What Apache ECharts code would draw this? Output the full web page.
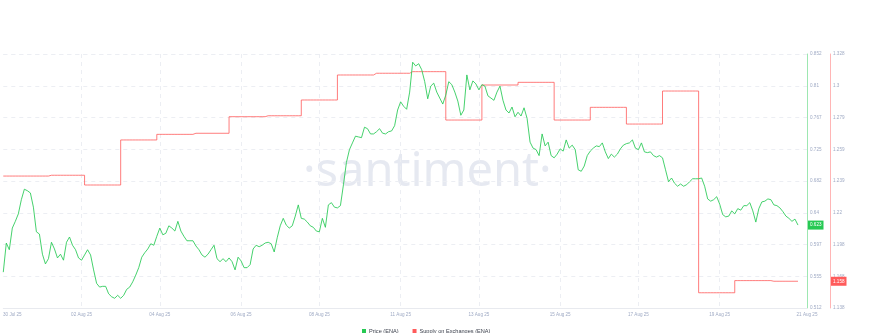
<!DOCTYPE html>
<html>
<head>
<meta charset="utf-8">
<script src="https://cdn.jsdelivr.net/npm/echarts@6/dist/echarts.min.js"></script>
<style>
html,body{margin:0;padding:0;background:#fff;}
#chart{width:874px;height:333px;}
</style>
</head>
<body>
<div id="chart"></div>
<script>
// ---- DATA ----
// price (ENA), one reading every 2 hours starting 29 Jul 2025 18:00
const priceValues = [
0.560,0.599,0.590,0.619,0.628,0.638,0.657,0.671,0.669,0.666,
0.647,0.614,0.611,0.584,0.571,0.578,0.600,0.591,0.579,0.584,
0.576,0.600,0.607,0.596,0.590,0.579,0.576,0.583,0.590,0.583,
0.563,0.545,0.540,0.541,0.541,0.531,0.527,0.525,0.529,0.525,
0.529,0.537,0.540,0.547,0.556,0.566,0.580,0.586,0.591,0.598,
0.596,0.608,0.619,0.610,0.612,0.622,0.619,0.615,0.628,0.615,
0.608,0.602,0.602,0.602,0.595,0.590,0.583,0.580,0.584,0.590,
0.596,0.578,0.574,0.578,0.574,0.579,0.574,0.563,0.580,0.575,
0.566,0.566,0.570,0.591,0.596,0.594,0.596,0.599,0.600,0.598,
0.587,0.606,0.622,0.632,0.623,0.619,0.622,0.635,0.650,0.632,
0.631,0.627,0.622,0.620,0.615,0.614,0.632,0.620,0.650,0.653,
0.647,0.646,0.649,0.677,0.707,0.724,0.733,0.742,0.741,0.740,
0.754,0.752,0.745,0.745,0.748,0.752,0.746,0.745,0.748,0.749,
0.756,0.777,0.788,0.782,0.778,0.801,0.841,0.836,0.839,0.831,
0.815,0.792,0.809,0.813,0.801,0.793,0.785,0.797,0.815,0.811,
0.801,0.789,0.770,0.777,0.824,0.804,0.816,0.812,0.804,0.811,
0.809,0.796,0.793,0.790,0.801,0.809,0.790,0.777,0.773,0.781,
0.768,0.774,0.769,0.780,0.766,0.734,0.726,0.724,0.716,0.745,
0.729,0.734,0.716,0.713,0.718,0.725,0.722,0.737,0.726,0.730,
0.724,0.697,0.695,0.702,0.716,0.722,0.726,0.729,0.728,0.733,
0.721,0.712,0.718,0.714,0.718,0.725,0.730,0.732,0.733,0.737,
0.726,0.724,0.733,0.721,0.720,0.721,0.716,0.714,0.716,0.713,
0.697,0.681,0.686,0.679,0.675,0.678,0.675,0.677,0.681,0.685,
0.685,0.685,0.686,0.675,0.658,0.655,0.657,0.661,0.651,0.637,
0.634,0.635,0.642,0.638,0.645,0.643,0.649,0.649,0.653,0.642,
0.627,0.645,0.654,0.655,0.658,0.657,0.650,0.649,0.646,0.641,
0.635,0.632,0.628,0.631,0.623
];

// supply on exchanges (ENA), one value per day
const supplyDates = ['29 Jul','30 Jul','31 Jul','01 Aug','02 Aug','03 Aug','04 Aug','05 Aug',
  '06 Aug','07 Aug','08 Aug','09 Aug','10 Aug','11 Aug','12 Aug','13 Aug','14 Aug','15 Aug',
  '16 Aug','17 Aug','18 Aug','19 Aug','20 Aug'];
const supplyDaily = [1.2367,1.2367,1.2373,1.2300,1.2637,1.2679,1.2687,1.2811,
  1.2818,1.2936,1.3123,1.3136,1.3148,1.2786,1.3048,1.3068,1.2786,1.2881,
  1.2756,1.3003,1.1494,1.1585,1.158];

// x-axis tick labels and the category index they sit on
const xTickLabels = ['30 Jul 25','02 Aug 25','04 Aug 25','06 Aug 25','08 Aug 25','11 Aug 25',
  '13 Aug 25','15 Aug 25','17 Aug 25','19 Aug 25','21 Aug 25'];
const xTickIndex = [3,26,52,79,105,132,158,185,211,238,267];

// y-axis tick labels
const priceTickLabels = ['0.512','0.555','0.597','0.64','0.682','0.725','0.767','0.81','0.852'];
const supplyTickLabels = ['1.138','1.168','1.198','1.22','1.239','1.259','1.279','1.3','1.328'];
const priceMin = 0.512, priceMax = 0.852;
const supplyMin = 1.138, supplyMax = 1.328;
const lastPriceLabel = '0.623';
const lastSupplyLabel = '1.158';

// ---- BUILD ----
const MON = ['Jan','Feb','Mar','Apr','May','Jun','Jul','Aug','Sep','Oct','Nov','Dec'];
const categoryCount = 268;
const categories = [];
const start = Date.UTC(2025, 6, 29, 18);
for (let i = 0; i < categoryCount; i++) {
  const d = new Date(start + i * 2 * 3600 * 1000);
  const dd = String(d.getUTCDate()).padStart(2, '0');
  const hh = String(d.getUTCHours()).padStart(2, '0');
  categories.push(dd + ' ' + MON[d.getUTCMonth()] + ' ' + hh + ':00');
}
const supplySeries = priceValues.map((_, i) => {
  const key = categories[i].slice(0, 6);
  return supplyDaily[supplyDates.indexOf(key)];
});

const GREEN = '#26c953', RED = '#ff5b5b', LABEL = '#9faac4';
const priceInterval = (priceMax - priceMin) / 8;
const supplyInterval = (supplyMax - supplyMin) / 8;
const gridLine = {type: [4, 4], color: '#eceef3', width: 1};

const chart = echarts.init(document.getElementById('chart'), null, {renderer: 'canvas'});
chart.setOption({
  animation: false,
  backgroundColor: '#fff',
  grid: {left: -2, right: 67, top: 54, bottom: 25, containLabel: false},
  graphic: [{
    type: 'text', left: 303, top: 149, z: -1, silent: true,
    style: {text: '\u00b7santiment\u00b7', font: '400 47px "Noto Sans", Lato, sans-serif', fill: '#e6e9f1'}
  }],
  legend: {
    left: 357, top: 323, icon: 'rect', itemWidth: 4, itemHeight: 4, itemGap: 14,
    textStyle: {fontSize: 5.6, color: '#3a3f4b', padding: [0, 0, 0, -2]},
    data: ['Price (ENA)', 'Supply on Exchanges (ENA)']
  },
  xAxis: {
    type: 'category', data: categories, boundaryGap: false,
    axisLine: {lineStyle: {color: '#e8eaef', width: 1}},
    axisTick: {show: false},
    axisLabel: {
      fontSize: 4.6, color: LABEL, margin: 4,
      interval: (idx) => xTickIndex.indexOf(idx) >= 0,
      formatter: (v, idx) => { const k = xTickIndex.indexOf(idx); return k >= 0 ? xTickLabels[k] : ''; }
    },
    splitLine: {show: true, lineStyle: gridLine,
      interval: (idx) => xTickIndex.indexOf(idx) > 0 && xTickIndex.indexOf(idx) < xTickIndex.length - 1}
  },
  yAxis: [{
    type: 'value', position: 'right', min: priceMin, max: priceMax, interval: priceInterval,
    axisLine: {show: true, lineStyle: {color: 'rgba(38,201,83,0.45)', width: 1}},
    axisTick: {show: false},
    axisLabel: {fontSize: 4.6, color: LABEL, margin: 3,
      formatter: (v) => priceTickLabels[Math.round((v - priceMin) / priceInterval)]},
    splitLine: {show: true, lineStyle: gridLine},
    axisPointer: {show: true, status: 'show', value: priceValues[priceValues.length - 1], type: 'line',
      lineStyle: {opacity: 0, width: 0}, triggerTooltip: false,
      label: {show: true, formatter: () => lastPriceLabel, backgroundColor: GREEN, color: '#fff',
        fontSize: 4.6, padding: [2, 2], margin: 1, borderRadius: 0}}
  }, {
    type: 'value', position: 'right', offset: 23, min: supplyMin, max: supplyMax, interval: supplyInterval,
    axisLine: {show: true, lineStyle: {color: 'rgba(255,91,91,0.45)', width: 1}},
    axisTick: {show: false},
    axisLabel: {fontSize: 4.6, color: LABEL, margin: 3,
      formatter: (v) => supplyTickLabels[Math.round((v - supplyMin) / supplyInterval)]},
    splitLine: {show: false},
    axisPointer: {show: true, status: 'show', value: supplySeries[supplySeries.length - 1], type: 'line',
      lineStyle: {opacity: 0, width: 0}, triggerTooltip: false,
      label: {show: true, formatter: () => lastSupplyLabel, backgroundColor: RED, color: '#fff',
        fontSize: 4.6, padding: [2, 2], margin: 1, borderRadius: 0}}
  }],
  series: [{
    name: 'Price (ENA)', type: 'line', yAxisIndex: 0, data: priceValues,
    showSymbol: false, symbol: 'none', lineStyle: {color: GREEN, width: 1, opacity: 0.85}, itemStyle: {color: GREEN}, z: 3
  }, {
    name: 'Supply on Exchanges (ENA)', type: 'line', yAxisIndex: 1, data: supplySeries, step: 'end',
    showSymbol: false, symbol: 'none', lineStyle: {color: RED, width: 1, opacity: 0.8}, itemStyle: {color: RED}, z: 2
  }]
});
</script>
</body>
</html>
